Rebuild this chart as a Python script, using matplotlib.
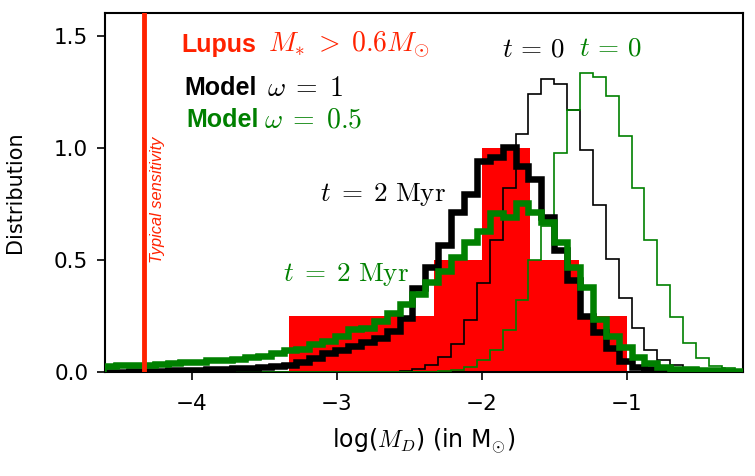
import numpy as np
import matplotlib
matplotlib.use('Agg')
import matplotlib.pyplot as plt

# =============================================================================
# DATA
# =============================================================================

# model histograms share one grid of bins in log(M_D)
BIN_START = -4.613
BIN_WIDTH = 0.0889
N_BINS = 50

# omega = 1, t = 0 (thin black)
w1_t0 = [0, 0, 0, 0, 0, 0, 0, 0, 0, 0,
         0, 0, 0, 0, 0, 0, 0, 0, 0, 0,
         0, 0, 0.002, 0.005, 0.012, 0.031, 0.068, 0.124, 0.232, 0.399,
         0.589, 0.82, 1.062, 1.24, 1.307, 1.285, 1.17, 0.991, 0.745, 0.503,
         0.329, 0.195, 0.098, 0.054, 0.03, 0.015, 0.008, 0.004, 0.002, 0.001]

# omega = 0.5, t = 0 (thin green)
w05_t0 = [0, 0, 0, 0, 0, 0, 0, 0, 0, 0,
          0, 0, 0, 0, 0, 0, 0, 0, 0, 0,
          0, 0, 0, 0, 0, 0, 0.003, 0.009, 0.024, 0.054,
          0.098, 0.188, 0.32, 0.5, 0.65, 0.975, 1.17, 1.333, 1.318, 1.232,
          1.054, 0.82, 0.59, 0.39, 0.244, 0.131, 0.061, 0.028, 0.016, 0.008]

# omega = 1, t = 2 Myr (thick black)
w1_t2 = [0.002, 0.002, 0.003, 0.003, 0.004, 0.007, 0.008, 0.009, 0.013, 0.015,
         0.017, 0.019, 0.021, 0.025, 0.031, 0.046, 0.064, 0.083, 0.1, 0.116,
         0.135, 0.15, 0.184, 0.24, 0.375, 0.467, 0.565, 0.715, 0.795, 0.94,
         0.96, 1.005, 0.92, 0.86, 0.69, 0.545, 0.41, 0.25, 0.18, 0.105,
         0.048, 0.024, 0.012, 0.006, 0.003, 0.002, 0.001, 0.001, 0, 0]

# omega = 0.5, t = 2 Myr (thick green)
w05_t2 = [0.027, 0.029, 0.032, 0.033, 0.035, 0.041, 0.043, 0.045, 0.052, 0.054,
          0.057, 0.066, 0.073, 0.083, 0.097, 0.104, 0.124, 0.14, 0.162, 0.19,
          0.196, 0.226, 0.265, 0.305, 0.35, 0.4, 0.45, 0.512, 0.58, 0.63,
          0.71, 0.69, 0.755, 0.713, 0.67, 0.578, 0.47, 0.38, 0.237, 0.16,
          0.113, 0.068, 0.039, 0.021, 0.015, 0.012, 0.01, 0.008, 0.006, 0.005]

# Lupus discs with M* > 0.6 Msun (number of discs per bin)
lupus_edges = [-10/3, -3.0, -8/3, -7/3, -2.0, -5/3, -4/3, -1.0]
lupus_counts = [1, 1, 1, 2, 4, 2, 1]

SENSITIVITY = -4.33

RED_TXT = '#ff2200'
GREEN = 'green'

# =============================================================================
# PLOT
# =============================================================================

plt.rcParams['mathtext.fontset'] = 'cm'
plt.rcParams['font.size'] = 15

edges = BIN_START + BIN_WIDTH * np.arange(N_BINS + 1)

fig = plt.figure(figsize=(7.55, 4.76), dpi=100)
ax = fig.add_axes([0.139, 0.2185, 0.845, 0.7535])

lup_counts = np.array(lupus_counts, dtype=float)
lup_w = np.diff(lupus_edges)
lup_dens = lup_counts / (lup_counts.sum() * lup_w)
ax.stairs(lup_dens, lupus_edges, fill=True, color='red', zorder=1)

ax.stairs(w1_t0, edges, color='black', lw=1.2, zorder=2)
ax.stairs(w05_t0, edges, color=GREEN, lw=1.2, zorder=3)
ax.stairs(w1_t2, edges, color='black', lw=4.7, zorder=4)
ax.stairs(w05_t2, edges, color=GREEN, lw=4.7, zorder=5)

ax.axvline(SENSITIVITY, color=RED_TXT, lw=3.5, zorder=6)
ax.text(SENSITIVITY + 0.09, 0.77, 'Typical sensitivity', rotation=90,
        color=RED_TXT, fontsize=11.8, style='italic', family='Liberation Sans',
        ha='center', va='center')

# legend-like labels: bold sans word followed by larger math
bold = dict(fontsize=18, fontweight='bold', family='Liberation Sans', va='center')
ax.text(-4.07, 1.46, 'Lupus', color=RED_TXT, **bold)
ax.text(-3.475, 1.46, r'$M_{*}\;>\;0.6M_{\odot}$', color=RED_TXT, fontsize=20, va='center')
ax.text(-4.05, 1.268, 'Model', color='black', **bold)
ax.text(-3.48, 1.268, r'$\omega\;=\;1$', color='black', fontsize=20, va='center')
ax.text(-4.04, 1.125, 'Model', color=GREEN, **bold)
ax.text(-3.505, 1.125, r'$\omega\;=\;0.5$', color=GREEN, fontsize=20, va='center')

tlab = dict(fontsize=19.5, ha='center', va='center')
ax.text(-1.645, 1.44, r'$t\,=\,0$', color='black', **tlab)
ax.text(-1.115, 1.445, r'$t\,=\,0$', color=GREEN, **tlab)
ax.text(-2.68, 0.79, r'$t\;=\;2\ \mathrm{Myr}$', color='black', **tlab)
ax.text(-2.935, 0.435, r'$t\;=\;2\ \mathrm{Myr}$', color=GREEN, **tlab)

ax.set_xlim(-4.6, -0.2)
ax.set_ylim(0, 1.6)
ax.set_xticks([-4, -3, -2, -1])
ax.set_yticks([0.0, 0.5, 1.0, 1.5])
ax.set_xlabel(r'log($M_D$) (in M$_{\odot}$)', fontsize=17, labelpad=9)
ax.set_ylabel('Distribution', fontsize=15)
ax.yaxis.set_label_coords(-0.125, 0.5)
for sp in ax.spines.values():
    sp.set_linewidth(1.5)
ax.tick_params(width=1.2, length=6, labelsize=15.5)
ax.tick_params(axis='x', pad=10)
ax.tick_params(axis='y', pad=6)

fig.savefig('out.png', dpi=100)
